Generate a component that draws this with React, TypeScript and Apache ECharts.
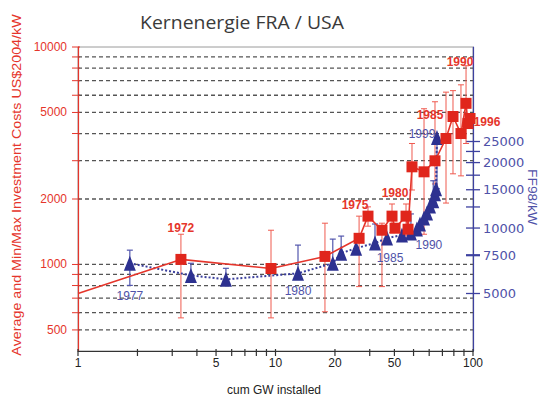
import { useEffect, useRef } from 'react';
import * as echarts from 'echarts';

// ---- data ----
// Red series: average investment cost (US$2004/kW) vs cumulative GW installed
const redX = [1, 3.32, 9.49, 17.8, 26.5, 29.4, 34.6, 38.9, 40.3, 45.8, 46.9, 49.1, 56.5, 64.2, 73.0, 79.2, 86.9, 92.2, 94.3, 96.6];
const redY = [735, 1055, 958, 1089, 1319, 1668, 1437, 1668, 1468, 1668, 1452, 2812, 2667, 2997, 3795, 4791, 4000, 5507, 4447, 4690];
// Red min/max ranges: x, min, max
const redErrX = [3.32, 9.49, 17.8, 26.5, 29.4, 34.6, 38.9, 45.8, 49.1, 56.5, 64.2, 73.0, 79.2, 86.9, 92.2];
const redErrLow = [568, 568, 606, 791, 1500, 791, 1400, 1355, 2200, 1377, 2345, 1916, 2611, 2555, 3600];
const redErrHigh = [1377, 1437, 1548, 1668, 1840, 1548, 1897, 1897, 3600, 5200, 5600, 6200, 6300, 6700, 8200];
// Blue series: FF98/kW (right axis)
const blueX = [1.83, 3.73, 5.61, 13.0, 19.5, 21.5, 25.6, 31.9, 36.7, 43.7, 48.5, 52.0, 53.9, 56.5, 58.5, 60.6, 62.9, 64.2, 65.0, 65.7];
const blueY = [6887, 6058, 5809, 6190, 6887, 7661, 8080, 8524, 8990, 9280, 9480, 9894, 10436, 11125, 11733, 12642, 13337, 14366, 15154, 26100];
const blueErrX = [1.83, 3.73, 5.61, 13.0, 19.5, 21.5, 31.9, 48.5, 62.9, 65.7];
const blueErrLow = [5448, 5950, 5750, 6050, 6750, 7550, 8400, 9350, 13000, 15154];
const blueErrHigh = [7912, 6887, 6528, 8347, 8894, 9183, 10435, 11610, 16500, 26100];
// Year annotations: index of the point they belong to
const redLabelIdx = [1, 5, 7, 15, 17, 19];
const redLabelText = ['1972', '1975', '1980', '1985', '1990', '1996'];
const blueLabelIdx = [0, 3, 8, 10, 19];
const blueLabelText = ['1977', '1980', '1985', '1990', '1999'];
// Axis ticks / labels
const gridValues = [500, 600, 700, 800, 900, 1000, 2000, 3000, 4000, 5000, 6000, 7000, 8000, 9000];
const leftTickValues = [500, 600, 700, 800, 900, 1000, 2000, 3000, 4000, 5000, 6000, 7000, 8000, 9000, 10000];
const leftLabelValues = [500, 1000, 2000, 5000, 10000];
const rightTickValues = [5000, 7500, 10000, 12500, 15000, 17500, 20000, 22500, 25000];
const rightLabelValues = [5000, 7500, 10000, 15000, 20000, 25000];
const xTickValues = [1, 2, 3, 4, 5, 6, 7, 8, 9, 10, 20, 30, 40, 50, 60, 70, 80, 90, 100];
const xLabelAt = [1, 5, 10, 20, 40, 100];
const xLabelText = ['1', '5', '10', '20', '50', '100'];

// ---- styling ----
const RED = '#e5352b';
const BLUE = '#2d3190';
const BLUE_TXT = '#4f52a8';
const redLabelOffsets = [[0, -31], [-13, -11], [3, -23], [-23, -1], [-6, -41], [17, 3]];
const blueLabelOffsets = [[0, 33], [0, 18], [3, 20], [18, 12], [-15, -3]];

const XMIN = 1, XMAX = 100, YMIN = 400, YMAX = 10000, RMIN = 2720, RMAX = 68000;

export default function App() {
  const ref = useRef<HTMLDivElement>(null);
  useEffect(() => {
    if (!ref.current) return;
    const chart = echarts.init(ref.current, undefined, { renderer: 'svg' });
    const font12 = '12px "Liberation Sans", Arial, sans-serif';

    const option: any = {
      animation: false,
      backgroundColor: '#ffffff',
      grid: { left: 78, right: 66, top: 47, bottom: 45, show: true, borderColor: '#9a9a9a', borderWidth: 1, backgroundColor: 'transparent' },
      xAxis: {
        type: 'log', logBase: 10, min: XMIN, max: XMAX,
        axisLine: { show: true, lineStyle: { color: '#333', width: 1.2 } },
        axisTick: { show: false }, axisLabel: { show: false }, splitLine: { show: false }, minorTick: { show: false },
      },
      yAxis: [
        {
          type: 'log', logBase: 10, min: YMIN, max: YMAX,
          axisLine: { show: true, lineStyle: { color: RED, width: 1.2 } },
          axisTick: { show: false }, axisLabel: { show: false }, splitLine: { show: false },
        },
        {
          type: 'log', logBase: 10, min: RMIN, max: RMAX, position: 'right',
          axisLine: { show: true, lineStyle: { color: '#3d41a0', width: 1.2 } },
          axisTick: { show: false }, axisLabel: { show: false }, splitLine: { show: false },
        },
      ],
      graphic: [
        { type: 'text', x: 242, y: 22, scaleX: 1.02, style: { text: 'Kernenergie FRA / USA', fill: '#3a3a3a', font: '19px "Open Sans", sans-serif', textAlign: 'center', textVerticalAlign: 'middle' } },
        { type: 'text', x: 17, y: 185, rotation: Math.PI / 2, scaleX: 1.1, style: { text: 'Average and Min/Max Investment Costs US$2004/kW', fill: RED, font: '13px "Liberation Sans", Arial, sans-serif', textAlign: 'center', textVerticalAlign: 'middle' } },
        { type: 'text', x: 532, y: 197, rotation: -Math.PI / 2, scaleX: 1.15, style: { text: 'FF98/kW', fill: BLUE_TXT, font: '12px "Liberation Sans", Arial, sans-serif', textAlign: 'center', textVerticalAlign: 'middle' } },
        { type: 'text', x: 274, y: 390, style: { text: 'cum GW installed', fill: '#222', font: font12, textAlign: 'center', textVerticalAlign: 'middle' } },
      ],
      series: [
        // dashed grid lines
        {
          type: 'custom', xAxisIndex: 0, yAxisIndex: 0, silent: true, z: 1,
          data: gridValues.map((v) => [XMIN, v]),
          renderItem: (_p: any, api: any) => {
            const v = api.value(1);
            const a = api.coord([XMIN, v]);
            const b = api.coord([XMAX, v]);
            return { type: 'line', shape: { x1: a[0], y1: a[1], x2: b[0], y2: b[1] }, style: { stroke: '#555', lineWidth: 1.3, lineDash: [4, 3] } };
          },
        },
        // left ticks + labels
        {
          type: 'custom', xAxisIndex: 0, yAxisIndex: 0, silent: true, z: 3,
          data: leftTickValues.map((v) => [XMIN, v]),
          renderItem: (_p: any, api: any) => {
            const v = api.value(1);
            const a = api.coord([XMIN, v]);
            const children: any[] = [
              { type: 'line', shape: { x1: a[0] - 6, y1: a[1], x2: a[0] + 2, y2: a[1] }, style: { stroke: RED, lineWidth: 1 } },
            ];
            if (leftLabelValues.indexOf(v) >= 0) {
              children.push({ type: 'text', x: a[0] - 11, y: a[1], style: { text: String(v), fill: RED, font: font12, align: 'right', verticalAlign: 'middle', textAlign: 'right', textVerticalAlign: 'middle' } });
            }
            return { type: 'group', children };
          },
        },
        // right ticks + labels
        {
          type: 'custom', xAxisIndex: 0, yAxisIndex: 1, silent: true, z: 3,
          data: rightTickValues.map((v) => [XMAX, v]),
          renderItem: (_p: any, api: any) => {
            const v = api.value(1);
            const a = api.coord([XMAX, v]);
            const children: any[] = [
              { type: 'line', shape: { x1: a[0] - 7, y1: a[1], x2: a[0] + 7, y2: a[1] }, style: { stroke: '#3d41a0', lineWidth: v === 7500 ? 2.2 : 1.3 } },
            ];
            if (rightLabelValues.indexOf(v) >= 0) {
              children.push({ type: 'text', x: a[0] + 10, y: a[1], style: { text: String(v), fill: BLUE_TXT, font: '13px "DejaVu Sans", sans-serif', align: 'left', verticalAlign: 'middle', textAlign: 'left', textVerticalAlign: 'middle' } });
            }
            return { type: 'group', children };
          },
        },
        // x ticks
        {
          type: 'custom', xAxisIndex: 0, yAxisIndex: 0, silent: true, z: 3,
          data: xTickValues.map((v) => [v, YMIN]),
          renderItem: (_p: any, api: any) => {
            const v = api.value(0);
            const a = api.coord([v, YMIN]);
            return { type: 'line', shape: { x1: a[0], y1: a[1] - 2, x2: a[0], y2: a[1] + 5 }, style: { stroke: '#333', lineWidth: 1.2 } };
          },
        },
        // x labels
        {
          type: 'custom', xAxisIndex: 0, yAxisIndex: 0, silent: true, z: 3,
          data: xLabelAt.map((v) => [v, YMIN]),
          renderItem: (p: any, api: any) => {
            const a = api.coord([api.value(0), YMIN]);
            return { type: 'text', x: a[0], y: a[1] + 12, style: { text: xLabelText[p.dataIndex], fill: '#222', font: font12, align: 'center', verticalAlign: 'middle', textAlign: 'center', textVerticalAlign: 'middle' } };
          },
        },
        // red min/max bars
        {
          type: 'custom', xAxisIndex: 0, yAxisIndex: 0, silent: true, z: 4,
          encode: { x: 0, y: [1, 2] },
          data: redErrX.map((x, i) => [x, redErrLow[i], redErrHigh[i]]),
          renderItem: (_p: any, api: any) => {
            const lo = api.coord([api.value(0), api.value(1)]);
            const hi = api.coord([api.value(0), api.value(2)]);
            const st = { stroke: '#ef5a4f', lineWidth: 1 };
            return {
              type: 'group', children: [
                { type: 'line', shape: { x1: lo[0], y1: lo[1], x2: hi[0], y2: hi[1] }, style: st },
                { type: 'line', shape: { x1: lo[0] - 3, y1: lo[1], x2: lo[0] + 3, y2: lo[1] }, style: st },
                { type: 'line', shape: { x1: hi[0] - 3, y1: hi[1], x2: hi[0] + 3, y2: hi[1] }, style: st },
              ],
            };
          },
        },
        // blue min/max bars
        {
          type: 'custom', xAxisIndex: 0, yAxisIndex: 1, silent: true, z: 4,
          encode: { x: 0, y: [1, 2] },
          data: blueErrX.map((x, i) => [x, blueErrLow[i], blueErrHigh[i]]),
          renderItem: (_p: any, api: any) => {
            const lo = api.coord([api.value(0), api.value(1)]);
            const hi = api.coord([api.value(0), api.value(2)]);
            const st = { stroke: '#5357ad', lineWidth: 1.2 };
            return {
              type: 'group', children: [
                { type: 'line', shape: { x1: lo[0], y1: lo[1], x2: hi[0], y2: hi[1] }, style: st },
                { type: 'line', shape: { x1: lo[0] - 3, y1: lo[1], x2: lo[0] + 3, y2: lo[1] }, style: st },
                { type: 'line', shape: { x1: hi[0] - 3, y1: hi[1], x2: hi[0] + 3, y2: hi[1] }, style: st },
              ],
            };
          },
        },
        // red line with squares
        {
          type: 'line', xAxisIndex: 0, yAxisIndex: 0, z: 6,
          data: redX.map((x, i) => (i === 0 ? { value: [x, redY[i]], symbol: 'none' } : [x, redY[i]])),
          symbol: 'rect', symbolSize: 11, showAllSymbol: true,
          itemStyle: { color: '#e0261c' },
          lineStyle: { color: RED, width: 1.6 },
        },
        // blue dotted line with triangles
        {
          type: 'line', xAxisIndex: 0, yAxisIndex: 1, z: 5,
          data: blueX.map((x, i) => [x, blueY[i]]),
          symbol: 'triangle', symbolSize: [12, 15], showAllSymbol: true,
          itemStyle: { color: BLUE },
          lineStyle: { color: '#3a3e9c', width: 2, type: 'dotted' },
        },
        // red year labels
        {
          type: 'custom', xAxisIndex: 0, yAxisIndex: 0, silent: true, z: 8,
          data: redLabelIdx.map((k) => [redX[k], redY[k]]),
          renderItem: (p: any, api: any) => {
            const a = api.coord([api.value(0), api.value(1)]);
            const o = redLabelOffsets[p.dataIndex];
            return { type: 'text', x: a[0] + o[0], y: a[1] + o[1], style: { text: redLabelText[p.dataIndex], fill: RED, font: 'bold 12px "Liberation Sans", Arial, sans-serif', align: 'center', verticalAlign: 'middle', textAlign: 'center', textVerticalAlign: 'middle' } };
          },
        },
        // blue year labels
        {
          type: 'custom', xAxisIndex: 0, yAxisIndex: 1, silent: true, z: 8,
          data: blueLabelIdx.map((k) => [blueX[k], blueY[k]]),
          renderItem: (p: any, api: any) => {
            const a = api.coord([api.value(0), api.value(1)]);
            const o = blueLabelOffsets[p.dataIndex];
            return { type: 'text', x: a[0] + o[0], y: a[1] + o[1], style: { text: blueLabelText[p.dataIndex], fill: BLUE_TXT, font: '12px "Liberation Sans", Arial, sans-serif', align: 'center', verticalAlign: 'middle', textAlign: 'center', textVerticalAlign: 'middle' } };
          },
        },
      ],
    };
    chart.setOption(option);
    return () => chart.dispose();
  }, []);
  return <div ref={ref} style={{ width: 539, height: 396, position: 'absolute', left: 0, top: 0 }} />;
}
